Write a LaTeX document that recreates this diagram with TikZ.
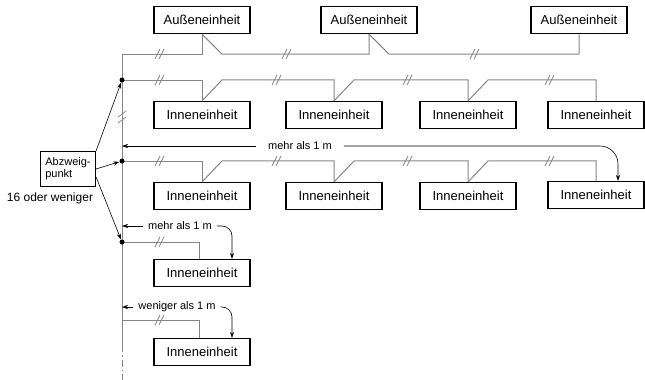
\documentclass[tikz,border=0pt]{standalone}
\usepackage{fontspec}
\setmainfont{Liberation Sans}
\usetikzlibrary{arrows.meta}

\begin{document}
\begin{tikzpicture}
[x=1pt, y=-1pt,
unit/.style={draw, line width=1.1pt, minimum width=96pt, minimum height=27pt, inner sep=0pt, font=\fontsize{13}{15}\selectfont},
pipe/.style={draw=black!48, line width=1pt},
lead/.style={draw=black, line width=0.6pt, -{Stealth[length=6pt,width=4pt]}},
dist/.style={inner ysep=2pt, inner xsep=5pt, font=\fontsize{11}{13}\selectfont},
dot/.style={circle, fill=black, inner sep=0pt, minimum size=5pt},
brk/.pic={\draw[pipe, line width=0.7pt] (-5,5) -- (0,-5) (-1,5) -- (4,-5);},
vbrk/.pic={\draw[pipe, line width=0.7pt] (-4,-1) -- (4,-7) (-4,5) -- (4,-1);}]
\useasboundingbox (0,0) rectangle (645,380);

% units
\node[unit] (o1) at (202,20) {Außeneinheit};
\node[unit] (o2) at (369,20) {Außeneinheit};
\node[unit] (o3) at (579,20) {Außeneinheit};
\node[unit] (a1) at (202,115) {Inneneinheit};
\node[unit] (a2) at (334,115) {Inneneinheit};
\node[unit] (a3) at (468,115) {Inneneinheit};
\node[unit] (a4) at (596,115) {Inneneinheit};
\node[unit] (b1) at (202,196) {Inneneinheit};
\node[unit] (b2) at (334,196) {Inneneinheit};
\node[unit] (b3) at (468,196) {Inneneinheit};
\node[unit] (b4) at (596,195) {Inneneinheit};
\node[unit] (c1) at (202,273) {Inneneinheit};
\node[unit] (d1) at (202,352) {Inneneinheit};

\node[draw, line width=1.1pt, minimum width=55pt, minimum height=35pt, inner sep=2pt,
  align=left, font=\fontsize{11}{12}\selectfont] (abz) at (68,169) {Abzweig-\\punkt};
\node[font=\fontsize{12}{14}\selectfont] (cnt) at (50,198) {16 oder weniger};

\coordinate (top) at (122,54);
\coordinate (j1) at (122,80);
\coordinate (j2) at (122,161);
\coordinate (j3) at (122,242);
\coordinate (j4) at (122,320);
\coordinate (bot) at (122,345);
\coordinate (end) at (122,380);

% pipes
\draw[pipe] (top) -- (bot);
\draw[pipe, dash pattern=on 7pt off 3pt on 1.5pt off 3pt] (bot) -- (end);
\draw[pipe] (top) -| (o1.south);
\draw[pipe] (o1.south) -- ++(20,20) -| (o2.south);
\draw[pipe] (o2.south) -- ++(20,20) -| (o3.south);
\draw[pipe] (j1) -| (a1.north);
\draw[pipe] (a1.north) -- ++(20,-21) -| (a2.north);
\draw[pipe] (a2.north) -- ++(20,-21) -| (a3.north);
\draw[pipe] (a3.north) -- ++(20,-21) -| (a4.north);
\draw[pipe] (j2) -| (b1.north);
\draw[pipe] (b1.north) -- ++(20,-21) -| (b2.north);
\draw[pipe] (b2.north) -- ++(20,-21) -| (b3.north);
\draw[pipe] (b3.north) -- ++(20,-21) -| (b4.north);
\draw[pipe] (j3) -| ([xshift=-3pt]c1.north);
\draw[pipe] (j4) -| ([xshift=-3pt]d1.north);

\pic at (160,54) {brk}; \pic at (287,54) {brk}; \pic at (475,54) {brk};
\pic at (160,80) {brk}; \pic at (277,80) {brk}; \pic at (408,80) {brk}; \pic at (550,80) {brk};
\pic at (160,161) {brk}; \pic at (277,161) {brk}; \pic at (408,161) {brk}; \pic at (550,161) {brk};
\pic at (160,242) {brk};
\pic at (160,320) {brk};
\pic at (122,118) {vbrk};

\node[dot] (p1) at (j1) {};
\node[dot] (p2) at (j2) {};
\node[dot] (p3) at (j3) {};

% branch
\draw[lead] (abz.north east) -- (p1);
\draw[lead] (abz.east) -- (p2);
\draw[lead] ([yshift=-8pt]abz.east) -- (p3);

% distances
\node[dist, inner xsep=12pt] (m1) at (300,146) {mehr als 1 m};
\coordinate (e1) at (122,146);
\draw[lead] (m1.west) -- (e1);
\draw[lead, rounded corners=18pt] (m1.east) -| ([xshift=22pt]b4.north);

\node[dist] (m2) at (180,226) {mehr als 1 m};
\coordinate (e2) at (122,226);
\draw[lead] (m2.west) -- (e2);
\draw[lead, rounded corners=10pt] (m2.east) -| ([xshift=30pt]c1.north);

\node[dist] (m3) at (177,307) {weniger als 1 m};
\coordinate (e3) at (122,307);
\draw[lead] (m3.west) -- (e3);
\draw[lead, rounded corners=10pt] (m3.east) -| ([xshift=30pt]d1.north);
\end{tikzpicture}
\end{document}
